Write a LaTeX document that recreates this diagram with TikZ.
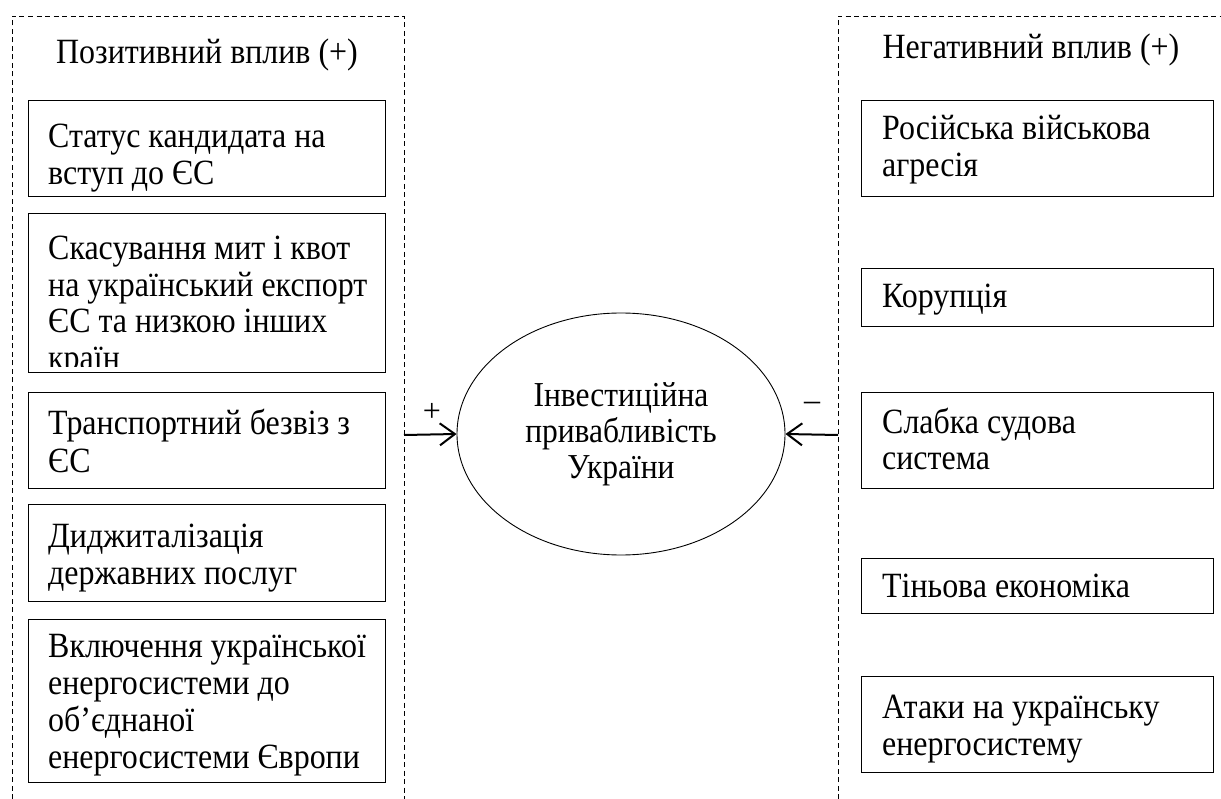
\documentclass[tikz,border=0pt]{standalone}
\usepackage{fontspec}
\setmainfont{Liberation Serif}
\newfontfamily\tallserif{Liberation Serif}[FakeStretch=0.9]
\usetikzlibrary{arrows.meta,shapes.geometric}
\begin{document}
\begin{tikzpicture}[x=1pt,y=-1pt,
  frame/.style={draw, line width=0.9pt, dash pattern=on 5pt off 3.5pt},
  itembox/.style={draw, line width=1.3pt, inner sep=0pt, anchor=north west},
  txt/.style={inner sep=0pt, anchor=base west, font=\tallserif\fontsize{35.5}{36.8}\selectfont},
  ttl/.style={inner sep=0pt, anchor=base, font=\tallserif\fontsize{35.5}{36.8}\selectfont},
  sign/.style={inner sep=0pt, font=\fontsize{32}{36.8}\selectfont},
  arr/.style={line width=2pt, -{Straight Barb[length=15pt,width=22pt,line width=2pt]}}
]
\useasboundingbox (0,0) rectangle (1221,799);
\fill[white] (0,0) rectangle (1221,799);
% frames
\draw[frame] (12,799) -- (12,16) -- (404,16) -- (404,799);
\draw[frame] (838,799) -- (838,16) -- (1221,16);
% titles
\node[ttl] (tl) at (207,64) {Позитивний вплив (+)};
\node[ttl] (tr) at (1031,59) {Негативний вплив (+)};
% left boxes
\node[itembox, minimum width=357pt, minimum height=96pt] (p1) at (28,100) {};
\node[itembox, minimum width=357pt, minimum height=159pt] (p2) at (28,213) {};
\node[itembox, minimum width=357pt, minimum height=96pt] (p3) at (28,392) {};
\node[itembox, minimum width=357pt, minimum height=97pt] (p4) at (28,504) {};
\node[itembox, minimum width=357pt, minimum height=163pt] (p5) at (28,619) {};
\node[txt] (p1a) at (48,148) {Статус кандидата на};
\node[txt] (p1b) at (48,185) {вступ до ЄС};
\begin{scope}
\clip (29,214) rectangle (384,367);
\node[txt] (p2a) at (48,260) {Скасування мит і квот};
\node[txt] (p2b) at (48,297) {на український експорт};
\node[txt] (p2c) at (48,333) {ЄС та низкою інших};
\node[txt] (p2d) at (48,370) {країн};
\end{scope}
\node[txt] (p3a) at (48,435) {Транспортний безвіз з};
\node[txt] (p3b) at (48,472) {ЄС};
\node[txt] (p4a) at (48,547) {Диджиталізація};
\node[txt] (p4b) at (48,584) {державних послуг};
\node[txt] (p5a) at (48,657) {Включення української};
\node[txt] (p5b) at (48,694) {енергосистеми до};
\node[txt] (p5c) at (48,731) {об’єднаної};
\node[txt] (p5d) at (48,768) {енергосистеми Європи};
% right boxes
\node[itembox, minimum width=352pt, minimum height=96pt] (n1) at (861,100) {};
\node[itembox, minimum width=352pt, minimum height=58pt] (n2) at (861,268) {};
\node[itembox, minimum width=352pt, minimum height=96pt] (n3) at (861,392) {};
\node[itembox, minimum width=352pt, minimum height=55pt] (n4) at (861,558) {};
\node[itembox, minimum width=352pt, minimum height=96pt] (n5) at (861,676) {};
\node[txt] (n1a) at (882,140) {Російська військова};
\node[txt] (n1b) at (882,177) {агресія};
\node[txt] (n2a) at (882,308) {Корупція};
\node[txt] (n3a) at (882,433) {Слабка судова};
\node[txt] (n3b) at (882,469) {система};
\node[txt] (n4a) at (882,597) {Тіньова економіка};
\node[txt] (n5a) at (882,718) {Атаки на українську};
\node[txt] (n5b) at (882,755) {енергосистему};
% centre
\node[ellipse, draw, line width=0.9pt, minimum width=328pt, minimum height=242pt, inner sep=0pt, align=center, font=\tallserif\fontsize{35}{36}\selectfont] (c) at (621,434) {Інвестиційна\\привабливість\\України};
\coordinate (lf) at (404,435);
\coordinate (rf) at (838,435);
\draw[arr] (lf) -- (c.west);
\draw[arr] (rf) -- (c.east);
\node[sign] (plus) at (432,412) {+};
\node[sign] (minus) at (812,406) {–};
\end{tikzpicture}
\end{document}
